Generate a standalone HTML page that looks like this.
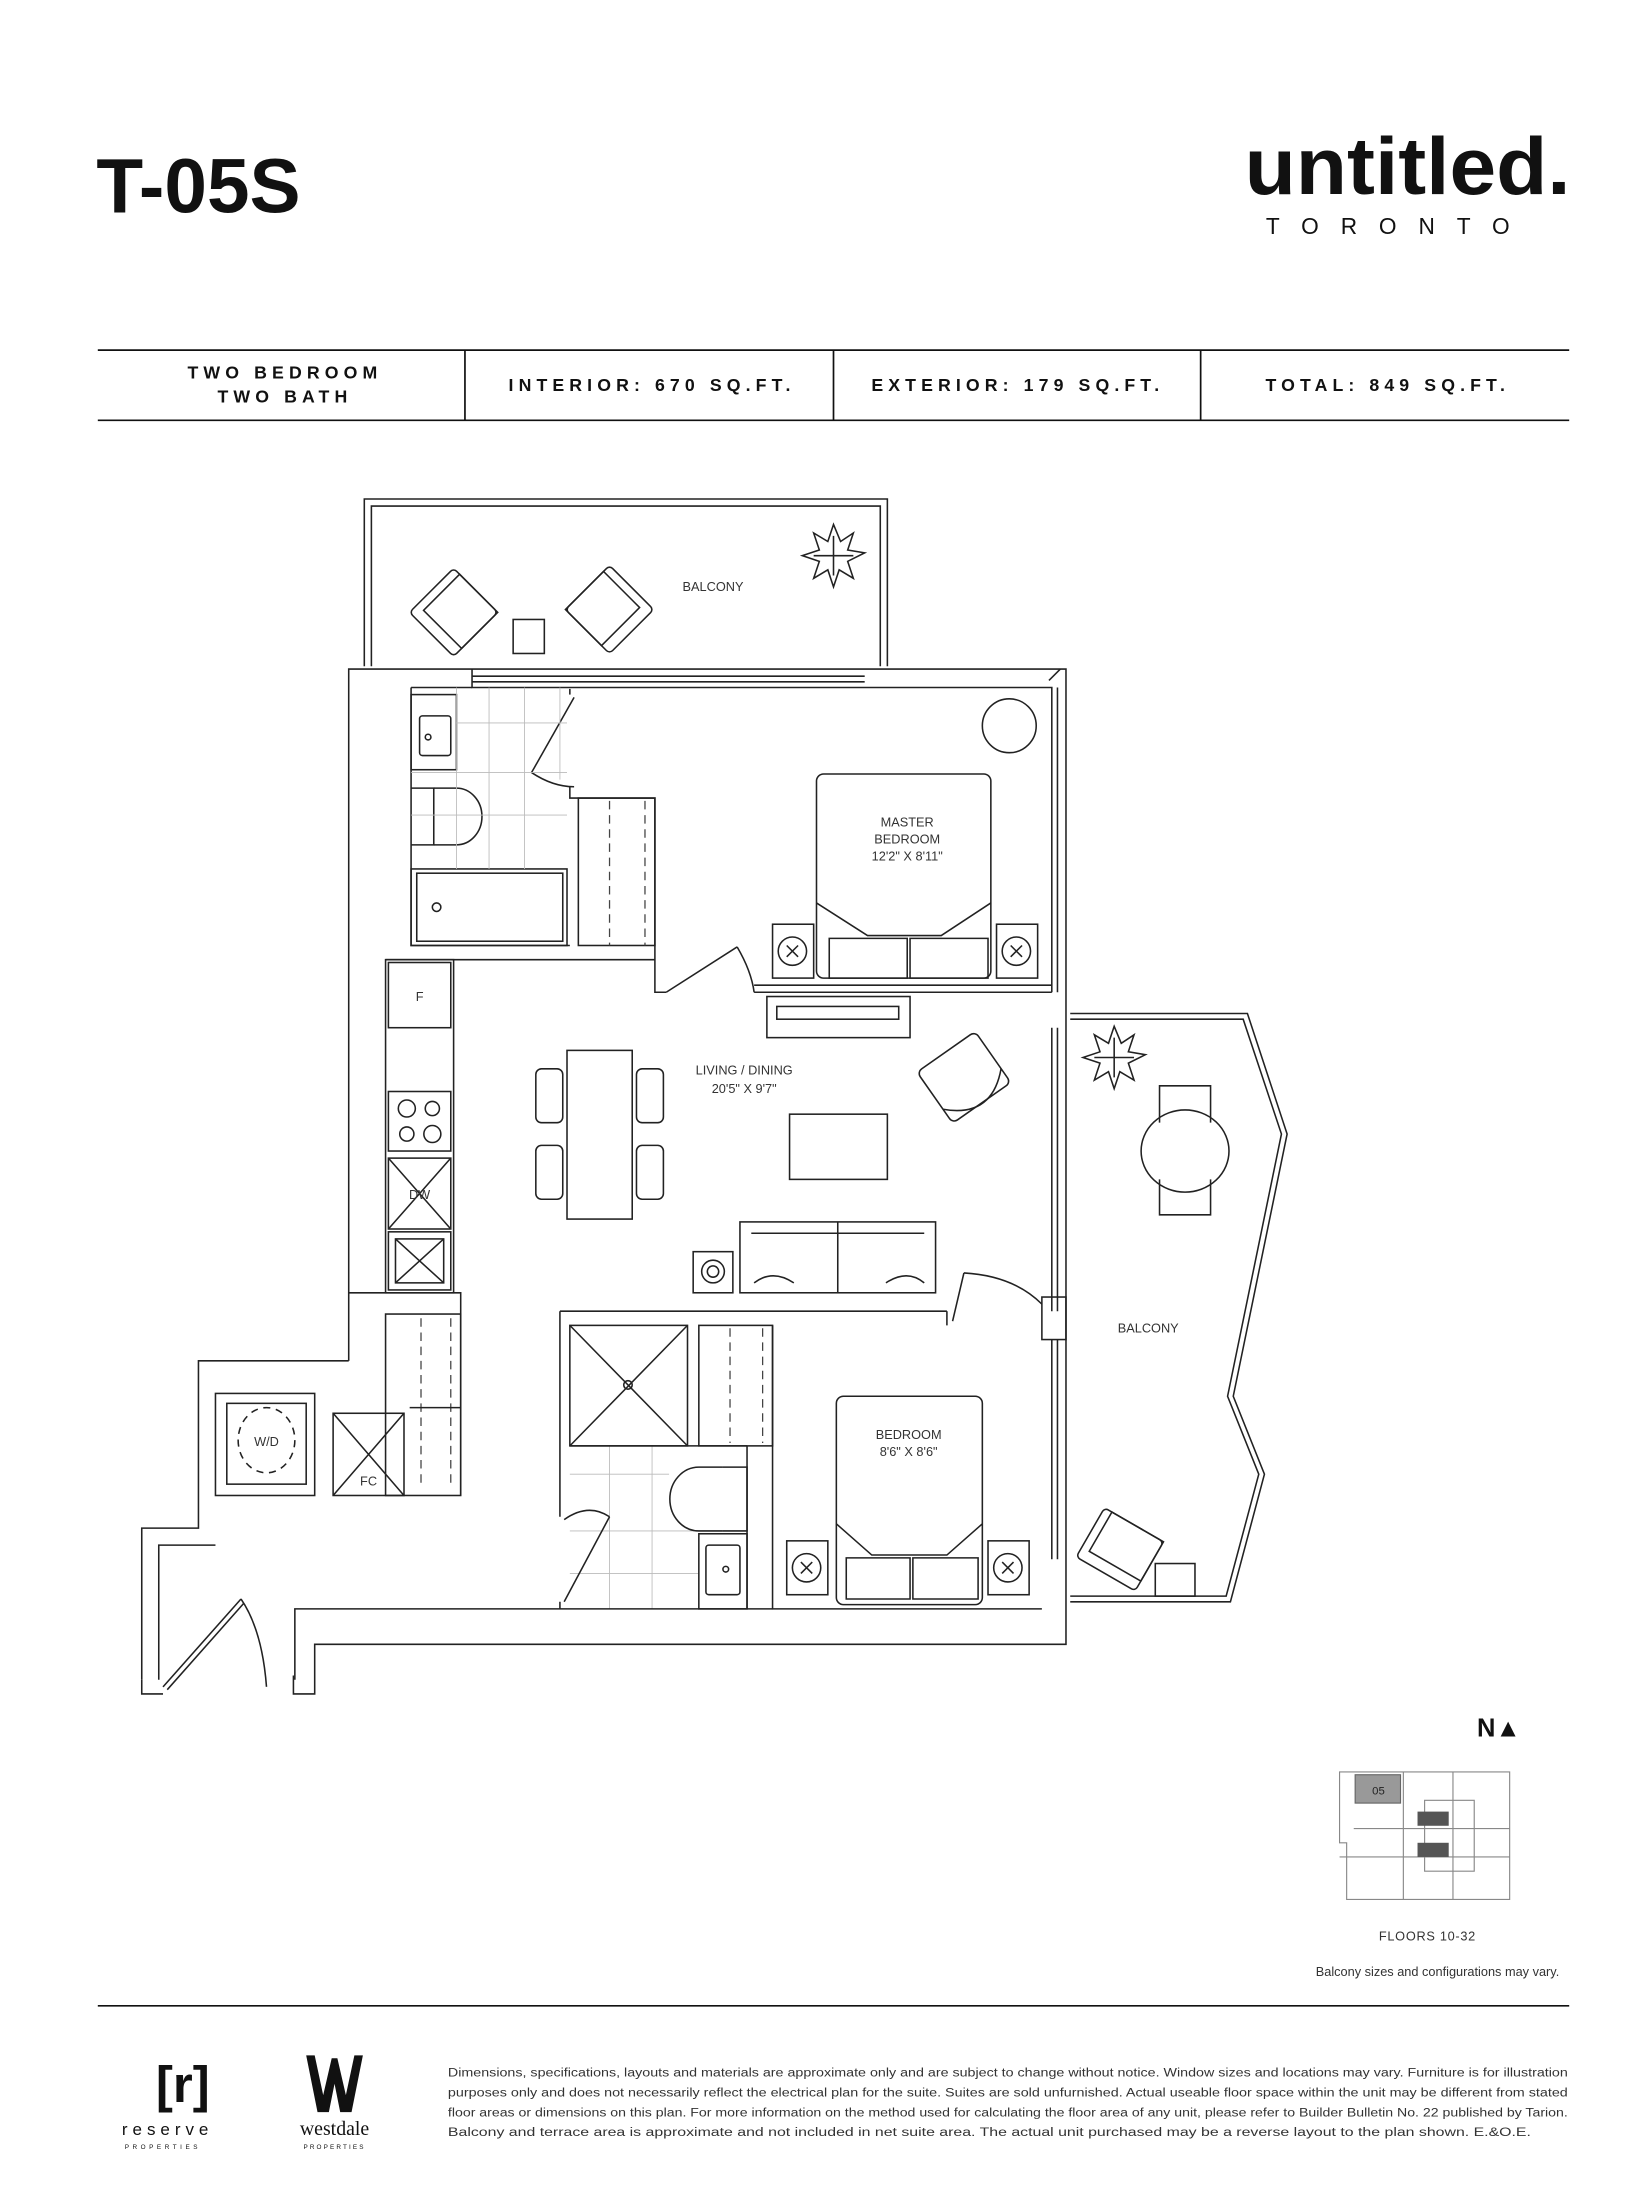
<!DOCTYPE html>
<html><head><meta charset="utf-8"><style>
html,body{margin:0;padding:0;background:#fff}
svg{display:block}
</style></head><body>
<svg width="1650" height="2200" viewBox="0 0 1164 1552" xmlns="http://www.w3.org/2000/svg" font-family="Liberation Sans, sans-serif">
<rect width="1164" height="1552" fill="#fff"/>
<!-- header -->
<text x="68" y="150" font-size="54" font-weight="bold" fill="#111">T-05S</text>
<text x="878" y="137" font-size="57" font-weight="bold" fill="#111" textLength="230" lengthAdjust="spacingAndGlyphs">untitled.</text>
<text x="893" y="165" font-size="16" fill="#111" textLength="172">TORONTO</text>
<!-- table -->
<g stroke="#111" stroke-width="1.2">
<line x1="69" y1="247" x2="1107" y2="247"/><line x1="69" y1="296.5" x2="1107" y2="296.5"/>
<line x1="328" y1="247" x2="328" y2="296"/><line x1="588" y1="247" x2="588" y2="296"/><line x1="847" y1="247" x2="847" y2="296"/>
</g>
<g font-size="12.5" font-weight="bold" fill="#111" letter-spacing="3.6" text-anchor="middle">
<text x="201" y="267">TWO BEDROOM</text><text x="201" y="284">TWO BATH</text>
<text x="460" y="276">INTERIOR: 670 SQ.FT.</text>
<text x="718" y="276">EXTERIOR: 179 SQ.FT.</text>
<text x="979" y="276">TOTAL: 849 SQ.FT.</text>
</g>

<g fill="none" stroke="#222" stroke-width="1.1">
<!-- top balcony -->
<path d="M257,470 V352 H626 V470"/><path d="M262,470 V357 H621 V470"/>
<g transform="translate(320,432) rotate(45)"><rect x="-22" y="-22" width="44" height="44" rx="3"/><rect x="-16" y="-22" width="38" height="36"/></g>
<g transform="translate(430,430) rotate(-45)"><rect x="-22" y="-22" width="44" height="44" rx="3"/><rect x="-22" y="-22" width="38" height="36"/></g>
<rect x="362" y="437" width="22" height="24"/>
<g transform="translate(588,392)"><path d="M0,-22 L5,-10 L14,-16 L10,-4 L22,-2 L10,4 L14,16 L4,10 L0,22 L-4,10 L-14,16 L-10,4 L-22,0 L-10,-4 L-14,-16 L-4,-10 Z"/><path d="M0,-14 L0,14 M-14,0 L14,0"/></g>

<!-- outer walls -->
<path d="M246,960 V472 H752 V1160 H222 V1195 H207 V1182"/>
<path d="M100,1185 V1078 H140 V960 H246"/>
<path d="M100,1185 V1195 H115"/>
<path d="M112,1185 V1090 H152"/>
<path d="M208,1185 V1135 H400"/>
<path d="M115,1190 L170,1128"/><path d="M118,1192 L172,1131"/><path d="M170,1128 Q185,1150 188,1190"/>
<!-- top window -->
<path d="M333,472 V485 H742 V700"/><line x1="333" y1="477" x2="610" y2="477"/><line x1="333" y1="481" x2="610" y2="481"/>
<path d="M740,480 L748,472"/>
<!-- right wall windows -->
<line x1="746" y1="485" x2="746" y2="700"/><line x1="742" y1="725" x2="742" y2="925"/><line x1="746" y1="725" x2="746" y2="925"/>
<line x1="742" y1="945" x2="742" y2="1100"/><line x1="746" y1="945" x2="746" y2="1100"/>
<rect x="735" y="915" width="17" height="30"/>
<!-- bathroom 1 -->
<path d="M290,485 H333 M290,485 V667 H402"/>
<rect x="290" y="490" width="32" height="53"/><rect x="296" y="505" width="22" height="28" rx="2"/><circle cx="302" cy="520" r="2"/>
<path d="M290,556 H306 V596 H290"/><path d="M306,556 H322 A18,20 0 0 1 322,596 H306"/>
<rect x="290" y="613" width="110" height="54"/><rect x="294" y="616" width="103" height="48"/><circle cx="308" cy="640" r="3"/>
<path d="M402,490 V486"/><path d="M405,492 L375,545"/><path d="M375,545 Q390,555 405,555"/>
<path d="M402,555 V563 H462 V700 H470"/>
<rect x="408" y="563" width="54" height="104"/>
<path d="M470,700 L520,668"/><path d="M520,668 Q530,685 532,700"/>
<path d="M532,700 H742"/><line x1="532" y1="695" x2="742" y2="695"/>
<path d="M272,677 H462"/>
</g>
<g stroke="#bbb" stroke-width="0.6" fill="none">
<path d="M322,485 V613 M345,485 V613 M370,485 V613 M395,485 V550 M290,545 H400 M290,575 H400 M322,510 H400"/>
<path d="M402,1040 H472 M402,1080 H493 M402,1110 H493 M430,1020 V1135 M460,1020 V1135"/>
</g>
<g stroke="#444" stroke-width="0.9" fill="none" stroke-dasharray="6,4">
<line x1="430" y1="565" x2="430" y2="667"/><line x1="455" y1="565" x2="455" y2="667"/>
<line x1="297" y1="930" x2="297" y2="1050"/><line x1="318" y1="930" x2="318" y2="1050"/>
<line x1="515" y1="937" x2="515" y2="1018"/><line x1="538" y1="937" x2="538" y2="1018"/>
</g>
<g fill="none" stroke="#222" stroke-width="1.1">
<!-- master bedroom -->
<rect x="576" y="546" width="123" height="144" rx="5"/>
<path d="M576,637 L612,660 H664 L699,637"/>
<path d="M585,662 L640,662 L640,690 L585,690 Z M642,662 L697,662 L697,690 L642,690 Z"/>
<rect x="545" y="652" width="29" height="38"/><circle cx="559" cy="671" r="10"/><path d="M555,667 L563,675 M563,667 L555,675"/>
<rect x="703" y="652" width="29" height="38"/><circle cx="717" cy="671" r="10"/><path d="M713,667 L721,675 M721,667 L713,675"/>
<circle cx="712" cy="512" r="19"/>
<!-- living -->
<rect x="541" y="703" width="101" height="29"/><rect x="548" y="710" width="86" height="9"/>
<rect x="272" y="677" width="48" height="235"/>
<rect x="274" y="679" width="44" height="46"/>
<rect x="274" y="770" width="44" height="42"/><circle cx="287" cy="782" r="6"/><circle cx="305" cy="782" r="5"/><circle cx="287" cy="800" r="5"/><circle cx="305" cy="800" r="6"/>
<rect x="274" y="817" width="44" height="50"/><path d="M274,817 L318,867 M318,817 L274,867"/>
<rect x="274" y="869" width="44" height="41"/><rect x="279" y="874" width="34" height="31"/><path d="M279,874 L313,905 M313,874 L279,905"/>
<rect x="400" y="741" width="46" height="119"/>
<rect x="378" y="754" width="19" height="38" rx="4"/><rect x="378" y="808" width="19" height="38" rx="4"/>
<rect x="449" y="754" width="19" height="38" rx="4"/><rect x="449" y="808" width="19" height="38" rx="4"/>
<rect x="557" y="786" width="69" height="46"/>
<rect x="522" y="862" width="138" height="50"/><line x1="591" y1="862" x2="591" y2="912"/><line x1="530" y1="870" x2="652" y2="870"/>
<path d="M532,905 Q545,895 560,905 M625,905 Q640,895 652,905"/>
<rect x="489" y="883" width="28" height="29"/><circle cx="503" cy="897" r="8"/><circle cx="503" cy="897" r="4"/>
<g transform="translate(680,760) rotate(-35)"><rect x="-25" y="-22" width="50" height="44" rx="4"/><path d="M-25,10 Q0,35 25,10"/></g>
<!-- lower left -->
<path d="M246,912 H325 V1055"/><rect x="272" y="927" width="53" height="128"/><line x1="289" y1="993" x2="325" y2="993"/>
<rect x="235" y="997" width="50" height="58"/><path d="M235,997 L285,1055 M285,997 L235,1055"/>
<rect x="152" y="983" width="70" height="72"/><rect x="160" y="990" width="56" height="57"/><ellipse cx="188" cy="1016" rx="20" ry="23" stroke-dasharray="5,4"/>
<!-- bath 2 -->
<path d="M395,925 V1070 M395,1130 V1135"/><path d="M395,925 H668"/><path d="M398,1130 L430,1070"/><path d="M430,1070 Q415,1060 398,1072"/>
<rect x="402" y="935" width="83" height="85"/><path d="M402,935 L485,1020 M485,935 L402,1020"/><circle cx="443" cy="977" r="3"/>
<rect x="493" y="935" width="52" height="85"/>
<path d="M527,1020 V1135 M402,1020 H527"/>
<path d="M510,1035 H527 V1080 H510"/><path d="M510,1035 H493 A20,22 0 0 0 493,1080 H510"/>
<rect x="493" y="1082" width="34" height="53"/><rect x="498" y="1090" width="24" height="35" rx="2"/><circle cx="512" cy="1107" r="2"/>
<path d="M545,935 V1135 H735"/><path d="M400,1135 H545"/>
<path d="M668,925 V935"/><path d="M672,932 L680,898"/><path d="M680,898 Q715,900 735,920"/>
<!-- bedroom 2 -->
<rect x="590" y="985" width="103" height="147" rx="5"/>
<path d="M590,1075 L615,1097 H668 L693,1075"/>
<path d="M597,1099 H642 V1128 H597 Z M644,1099 H690 V1128 H644 Z"/>
<rect x="555" y="1087" width="29" height="38"/><circle cx="569" cy="1106" r="10"/><path d="M565,1102 L573,1110 M573,1102 L565,1110"/>
<rect x="697" y="1087" width="29" height="38"/><circle cx="711" cy="1106" r="10"/><path d="M707,1102 L715,1110 M715,1102 L707,1110"/>
<!-- right balcony -->
<path d="M755,715 H880 L908,800 L870,985 L892,1040 L868,1130 H755"/>
<path d="M755,719 H877 L904,800 L866,985 L888,1040 L865,1126 H755"/>
<ellipse cx="836" cy="812" rx="31" ry="29"/>
<path d="M818,792 V766 H854 V792 M818,832 V857 H854 V832"/>
<g transform="translate(786,746)"><path d="M0,-22 L5,-10 L14,-16 L10,-4 L22,-2 L10,4 L14,16 L4,10 L0,22 L-4,10 L-14,16 L-10,4 L-22,0 L-10,-4 L-14,-16 L-4,-10 Z"/><path d="M0,-14 L0,14 M-14,0 L14,0"/></g>
<g transform="translate(790,1093) rotate(30)"><rect x="-24" y="-20" width="48" height="40" rx="3"/><rect x="-18" y="-20" width="42" height="32"/></g>
<rect x="815" y="1103" width="28" height="23"/>
</g>
<g font-size="9" fill="#333" text-anchor="middle">
<text x="503" y="417">BALCONY</text>
<text x="640" y="583">MASTER</text><text x="640" y="595">BEDROOM</text><text x="640" y="607">12'2" X 8'11"</text>
<text x="525" y="758">LIVING / DINING</text><text x="525" y="771">20'5" X 9'7"</text>
<text x="296" y="706">F</text><text x="296" y="846">DW</text><text x="188" y="1020">W/D</text><text x="260" y="1048">FC</text>
<text x="641" y="1015">BEDROOM</text><text x="641" y="1027">8'6" X 8'6"</text>
<text x="810" y="940">BALCONY</text>
</g>

<!-- north & key plan -->
<text x="1042" y="1225" font-size="18" font-weight="bold" fill="#111">N▲</text>
<g fill="none" stroke="#888" stroke-width="0.8">
<path d="M955,1250 H1065 V1340 H950 V1300 H945 V1250 Z"/>
<path d="M990,1250 V1340 M1025,1250 V1340 M955,1290 H1065 M945,1310 H1065 M1005,1270 H1040 V1320 H1005 Z"/>
</g>
<rect x="956" y="1252" width="32" height="20" fill="#999" stroke="#666" stroke-width="0.8"/>
<text x="968" y="1266" font-size="8" fill="#222">05</text>
<rect x="1000" y="1278" width="22" height="10" fill="#555"/><rect x="1000" y="1300" width="22" height="10" fill="#555"/>
<text x="1007" y="1369" font-size="9" fill="#333" text-anchor="middle" letter-spacing="0.5">FLOORS 10-32</text>
<text x="1100" y="1394" font-size="9" fill="#333" text-anchor="end">Balcony sizes and configurations may vary.</text>

<!-- footer -->
<line x1="69" y1="1415" x2="1107" y2="1415" stroke="#111" stroke-width="1.2"/>
<text x="110" y="1483" font-size="36" font-weight="bold" fill="#111">[r]</text>
<text x="86" y="1506" font-size="12" fill="#111" letter-spacing="3.5">reserve</text>
<text x="88" y="1516" font-size="4.5" fill="#111" letter-spacing="2.5">PROPERTIES</text>
<path d="M216,1450 L224,1490 L232,1490 L236,1470 L240,1490 L248,1490 L256,1450 L250,1450 L244,1478 L238,1452 L234,1452 L228,1478 L222,1450 Z" fill="#111"/>
<text x="236" y="1506" font-size="14" fill="#111" font-family="Liberation Serif, serif" text-anchor="middle">westdale</text>
<text x="236" y="1516" font-size="4.5" fill="#111" text-anchor="middle" letter-spacing="1.5">PROPERTIES</text>
<g font-size="8.6" fill="#333">
<text x="316" y="1465" textLength="790" lengthAdjust="spacingAndGlyphs">Dimensions, specifications, layouts and materials are approximate only and are subject to change without notice. Window sizes and locations may vary. Furniture is for illustration</text>
<text x="316" y="1479" textLength="790" lengthAdjust="spacingAndGlyphs">purposes only and does not necessarily reflect the electrical plan for the suite. Suites are sold unfurnished. Actual useable floor space within the unit may be different from stated</text>
<text x="316" y="1493" textLength="790" lengthAdjust="spacingAndGlyphs">floor areas or dimensions on this plan.  For more information on the method used for calculating the floor area of any unit, please refer to Builder Bulletin No. 22 published by Tarion.</text>
<text x="316" y="1507" textLength="764" lengthAdjust="spacingAndGlyphs">Balcony and terrace area is approximate and not included in net suite area. The actual unit purchased may be a reverse layout to the plan shown. E.&amp;O.E.</text>
</g>
</svg>
</body></html>
